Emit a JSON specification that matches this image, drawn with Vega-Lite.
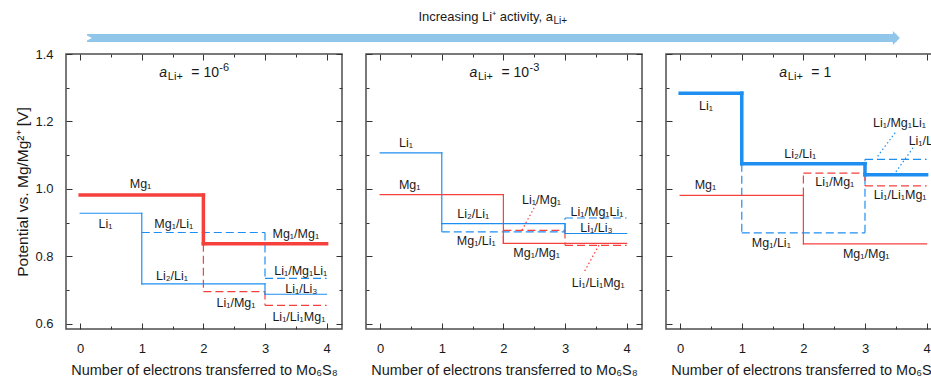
{
  "$schema": "https://vega.github.io/schema/vega-lite/v6.json",
  "padding": {"left": 15, "top": 0, "right": 0, "bottom": 0},
  "background": "white",
  "config": {
    "font": "Liberation Sans",
    "view": {"stroke": "#4d4d4d", "strokeWidth": 1.5},
    "axis": {"domain": false, "grid": false, "ticks": true, "tickColor": "#333333", "tickWidth": 1, "labelFont": "Liberation Sans", "labelFontSize": 13, "labelColor": "#1a1a1a", "titleFont": "Liberation Sans", "titleFontSize": 14.5, "titleFontWeight": "normal", "titleColor": "#1a1a1a", "labelOverlap": false, "labelFlush": false}
  },
  "datasets": {
    "seg": [
      {"p":1,"x":0,"x2":1,"y":0.928,"y2":0.928,"el":"Li","st":"solid","w":"thin"},
      {"p":1,"x":1,"x2":1,"y":0.928,"y2":0.719,"el":"Li","st":"solid","w":"thin"},
      {"p":1,"x":1,"x2":3,"y":0.719,"y2":0.719,"el":"Li","st":"solid","w":"thin"},
      {"p":1,"x":3,"x2":3,"y":0.719,"y2":0.688,"el":"Li","st":"solid","w":"thin"},
      {"p":1,"x":3,"x2":4,"y":0.688,"y2":0.688,"el":"Li","st":"solid","w":"thin"},
      {"p":1,"x":1,"x2":3,"y":0.871,"y2":0.871,"el":"Li","st":"dashed","w":"thin"},
      {"p":1,"x":3,"x2":3,"y":0.871,"y2":0.735,"el":"Li","st":"dashed","w":"thin"},
      {"p":1,"x":3,"x2":4,"y":0.735,"y2":0.735,"el":"Li","st":"dashed","w":"thin"},
      {"p":1,"x":2,"x2":2,"y":0.838,"y2":0.696,"el":"Mg","st":"dashed","w":"thin"},
      {"p":1,"x":2,"x2":3,"y":0.696,"y2":0.696,"el":"Mg","st":"dashed","w":"thin"},
      {"p":1,"x":3,"x2":3,"y":0.696,"y2":0.655,"el":"Mg","st":"dashed","w":"thin"},
      {"p":1,"x":3,"x2":4,"y":0.655,"y2":0.655,"el":"Mg","st":"dashed","w":"thin"},
      {"p":1,"x":0,"x2":2,"y":0.982,"y2":0.982,"el":"Mg","st":"solid","w":"thick"},
      {"p":1,"x":2,"x2":2,"y":0.982,"y2":0.838,"el":"Mg","st":"solid","w":"thick"},
      {"p":1,"x":2,"x2":4,"y":0.838,"y2":0.838,"el":"Mg","st":"solid","w":"thick"},

      {"p":2,"x":0,"x2":1,"y":1.107,"y2":1.107,"el":"Li","st":"solid","w":"thin"},
      {"p":2,"x":1,"x2":1,"y":1.107,"y2":0.897,"el":"Li","st":"solid","w":"thin"},
      {"p":2,"x":1,"x2":3,"y":0.897,"y2":0.897,"el":"Li","st":"solid","w":"thin"},
      {"p":2,"x":3,"x2":3,"y":0.897,"y2":0.868,"el":"Li","st":"solid","w":"thin"},
      {"p":2,"x":3,"x2":4,"y":0.868,"y2":0.868,"el":"Li","st":"solid","w":"thin"},
      {"p":2,"x":0,"x2":2,"y":0.983,"y2":0.983,"el":"Mg","st":"solid","w":"thin"},
      {"p":2,"x":2,"x2":2,"y":0.983,"y2":0.839,"el":"Mg","st":"solid","w":"thin"},
      {"p":2,"x":2,"x2":4,"y":0.839,"y2":0.839,"el":"Mg","st":"solid","w":"thin"},
      {"p":2,"x":1,"x2":1,"y":0.897,"y2":0.873,"el":"Li","st":"dashed","w":"thin"},
      {"p":2,"x":1,"x2":3,"y":0.873,"y2":0.873,"el":"Li","st":"dashed","w":"thin"},
      {"p":2,"x":3,"x2":3,"y":0.873,"y2":0.914,"el":"Li","st":"dashed","w":"thin"},
      {"p":2,"x":3,"x2":4,"y":0.914,"y2":0.914,"el":"Li","st":"dashed","w":"thin"},
      {"p":2,"x":2,"x2":2,"y":0.839,"y2":0.877,"el":"Mg","st":"dashed","w":"thin"},
      {"p":2,"x":2,"x2":3,"y":0.877,"y2":0.877,"el":"Mg","st":"dashed","w":"thin"},
      {"p":2,"x":3,"x2":3,"y":0.877,"y2":0.833,"el":"Mg","st":"dashed","w":"thin"},
      {"p":2,"x":3,"x2":4,"y":0.833,"y2":0.833,"el":"Mg","st":"dashed","w":"thin"},
      {"p":2,"x":2.53,"x2":2.30,"y":0.955,"y2":0.877,"el":"Mg","st":"dotted","w":"thin"},
      {"p":2,"x":3.32,"x2":3.56,"y":0.757,"y2":0.836,"el":"Mg","st":"dotted","w":"thin"},

      {"p":3,"x":1,"x2":1,"y":1.075,"y2":0.870,"el":"Li","st":"dashed","w":"thin"},
      {"p":3,"x":1,"x2":3,"y":0.870,"y2":0.870,"el":"Li","st":"dashed","w":"thin"},
      {"p":3,"x":3,"x2":3,"y":0.870,"y2":1.088,"el":"Li","st":"dashed","w":"thin"},
      {"p":3,"x":3,"x2":4,"y":1.088,"y2":1.088,"el":"Li","st":"dashed","w":"thin"},
      {"p":3,"x":2,"x2":2,"y":0.981,"y2":1.047,"el":"Mg","st":"dashed","w":"thin"},
      {"p":3,"x":2,"x2":3,"y":1.047,"y2":1.047,"el":"Mg","st":"dashed","w":"thin"},
      {"p":3,"x":3,"x2":3,"y":1.047,"y2":1.009,"el":"Mg","st":"dashed","w":"thin"},
      {"p":3,"x":3,"x2":4,"y":1.009,"y2":1.009,"el":"Mg","st":"dashed","w":"thin"},
      {"p":3,"x":3.49,"x2":3.19,"y":1.167,"y2":1.093,"el":"Li","st":"dotted","w":"thin"},
      {"p":3,"x":3.78,"x2":3.49,"y":1.122,"y2":1.048,"el":"Li","st":"dotted","w":"thin"},
      {"p":3,"x":0,"x2":2,"y":0.981,"y2":0.981,"el":"Mg","st":"solid","w":"thin"},
      {"p":3,"x":2,"x2":2,"y":0.981,"y2":0.837,"el":"Mg","st":"solid","w":"thin"},
      {"p":3,"x":2,"x2":4,"y":0.837,"y2":0.837,"el":"Mg","st":"solid","w":"thin"},
      {"p":3,"x":0,"x2":1,"y":1.284,"y2":1.284,"el":"Li","st":"solid","w":"thick"},
      {"p":3,"x":1,"x2":1,"y":1.284,"y2":1.075,"el":"Li","st":"solid","w":"thick"},
      {"p":3,"x":1,"x2":3,"y":1.075,"y2":1.075,"el":"Li","st":"solid","w":"thick"},
      {"p":3,"x":3,"x2":3,"y":1.075,"y2":1.042,"el":"Li","st":"solid","w":"thick"},
      {"p":3,"x":3,"x2":4,"y":1.042,"y2":1.042,"el":"Li","st":"solid","w":"thick"}
    ],
    "lab": [
      {"p":1,"x":0.98,"y":1.015,"t":"Mg₁"},
      {"p":1,"x":0.41,"y":0.895,"t":"Li₁"},
      {"p":1,"x":1.52,"y":0.897,"t":"Mg₁/Li₁"},
      {"p":1,"x":1.49,"y":0.741,"t":"Li₂/Li₁"},
      {"p":1,"x":2.53,"y":0.663,"t":"Li₁/Mg₁"},
      {"p":1,"x":3.50,"y":0.868,"t":"Mg₁/Mg₁"},
      {"p":1,"x":3.58,"y":0.757,"t":"Li₁/Mg₁Li₁"},
      {"p":1,"x":3.59,"y":0.705,"t":"Li₁/Li₃"},
      {"p":1,"x":3.55,"y":0.621,"t":"Li₁/Li₁Mg₁"},
      {"p":2,"x":0.42,"y":1.137,"t":"Li₁"},
      {"p":2,"x":0.48,"y":1.012,"t":"Mg₁"},
      {"p":2,"x":1.51,"y":0.925,"t":"Li₂/Li₁"},
      {"p":2,"x":1.56,"y":0.846,"t":"Mg₁/Li₁"},
      {"p":2,"x":2.62,"y":0.966,"t":"Li₁/Mg₁"},
      {"p":2,"x":2.54,"y":0.811,"t":"Mg₁/Mg₁"},
      {"p":2,"x":3.52,"y":0.933,"t":"Li₁/Mg₁Li₁"},
      {"p":2,"x":3.51,"y":0.885,"t":"Li₁/Li₃"},
      {"p":2,"x":3.54,"y":0.722,"t":"Li₁/Li₁Mg₁"},
      {"p":3,"x":0.42,"y":1.246,"t":"Li₁"},
      {"p":3,"x":1.95,"y":1.103,"t":"Li₂/Li₁"},
      {"p":3,"x":0.41,"y":1.012,"t":"Mg₁"},
      {"p":3,"x":2.51,"y":1.021,"t":"Li₁/Mg₁"},
      {"p":3,"x":1.48,"y":0.841,"t":"Mg₁/Li₁"},
      {"p":3,"x":3.02,"y":0.806,"t":"Mg₁/Mg₁"},
      {"p":3,"x":3.56,"y":1.196,"t":"Li₁/Mg₁Li₁"},
      {"p":3,"x":3.57,"y":0.982,"t":"Li₁/Li₁Mg₁"},
      {"p":3,"x":3.97,"y":1.142,"t":"Li₁/Li₃"}
    ],
    "ttl": [
      {"p":1,"x":1.285,"y":1.345,"a":"a","s":"Li+","m":"= 10","e":"-6"},
      {"p":2,"x":1.45,"y":1.345,"a":"a","s":"Li+","m":"= 10","e":"-3"},
      {"p":3,"x":1.61,"y":1.345,"a":"a","s":"Li+","m":"= 1","e":""}
    ],
    "hdr": [
      {"x0":0.0243,"x1":0.960,"ya":0.191,"xt":0.563,"yt":0.638,"t":"Increasing Li⁺ activity, a","s":"Li+"}
    ]
  },
  "spacing": 0,
  "vconcat": [
    {
      "width": 865, "height": 47,
      "view": {"stroke": null},
      "data": {"name": "hdr"},
      "layer": [
        {"mark": {"type": "rule", "strokeWidth": 8, "color": "#8fc6ea"},
         "encoding": {
           "x": {"field": "x0", "type": "quantitative", "scale": {"domain": [0, 1], "nice": false, "zero": false}, "axis": null},
           "x2": {"field": "x1"},
           "y": {"field": "ya", "type": "quantitative", "scale": {"domain": [0, 1], "nice": false, "zero": false}, "axis": null}
         }},
        {"mark": {"type": "point", "filled": true, "opacity": 1, "color": "#8fc6ea", "strokeWidth": 0, "size": 196, "shape": "M-0.5,-1L0.5,0L-0.5,1Z"},
         "encoding": {
           "x": {"field": "x1", "type": "quantitative", "scale": {"domain": [0, 1], "nice": false, "zero": false}, "axis": null},
           "y": {"field": "ya", "type": "quantitative", "scale": {"domain": [0, 1], "nice": false, "zero": false}, "axis": null}
         }},
        {"mark": {"type": "point", "filled": true, "opacity": 1, "color": "white", "strokeWidth": 0, "size": 100, "shape": "M-1,-1L1,0L-1,1Z"},
         "encoding": {
           "x": {"field": "x0", "type": "quantitative", "scale": {"domain": [0, 1], "nice": false, "zero": false}, "axis": null},
           "y": {"field": "ya", "type": "quantitative", "scale": {"domain": [0, 1], "nice": false, "zero": false}, "axis": null}
         }},
        {"mark": {"type": "text", "align": "right", "baseline": "middle", "fontSize": 13, "color": "#1a1a1a"},
         "encoding": {
           "x": {"field": "xt", "type": "quantitative", "scale": {"domain": [0, 1], "nice": false, "zero": false}, "axis": null},
           "y": {"field": "yt", "type": "quantitative", "scale": {"domain": [0, 1], "nice": false, "zero": false}, "axis": null},
           "text": {"field": "t"}
         }},
        {"mark": {"type": "text", "align": "left", "baseline": "middle", "fontSize": 10, "dy": 4, "dx": 0.5, "color": "#1a1a1a"},
         "encoding": {
           "x": {"field": "xt", "type": "quantitative", "scale": {"domain": [0, 1], "nice": false, "zero": false}, "axis": null},
           "y": {"field": "yt", "type": "quantitative", "scale": {"domain": [0, 1], "nice": false, "zero": false}, "axis": null},
           "text": {"field": "s"}
         }}
      ]
    },
    {
      "spacing": 20,
      "hconcat": [
        {
          "width": 276, "height": 275,
          "layer": [
            {"data": {"name": "seg"}, "transform": [{"filter": "datum.p === 1 && datum.st !== 'solid'"}],
             "mark": {"type": "rule"},
             "encoding": {
               "x": {"field": "x", "type": "quantitative", "scale": {"domain": [-0.23, 4.25], "nice": false, "zero": false},
                     "axis": {"orient": "bottom", "values": [0,0.5,1,1.5,2,2.5,3,3.5,4], "labelExpr": "datum.value % 1 === 0 ? format(datum.value, 'd') : ''", "tickSize": {"condition": {"test": "datum.value % 1 === 0", "value": -6}, "value": -3}, "labelPadding": 19, "title": "Number of electrons transferred to Mo₆S₈", "titlePadding": 5}},
               "x2": {"field": "x2"},
               "y": {"field": "y", "type": "quantitative", "scale": {"domain": [0.585, 1.4], "nice": false, "zero": false},
                     "axis": {"orient": "left", "values": [0.6,0.7,0.8,0.9,1.0,1.1,1.2,1.3,1.4], "labelExpr": "round(datum.value*10) % 2 === 0 ? format(datum.value, '.1f') : ''", "tickSize": {"condition": {"test": "round(datum.value*10) % 2 === 0", "value": -6}, "value": -3}, "labelPadding": 19, "title": "Potential vs. Mg/Mg²⁺ [V]", "titlePadding": 4, "titleFontSize": 15.5}},
               "y2": {"field": "y2"},
               "color": {"field": "el", "type": "nominal", "scale": {"domain": ["Li", "Mg"], "range": ["#1f8ef1", "#f5403c"]}, "legend": null},
               "strokeDash": {"field": "st", "type": "nominal", "scale": {"domain": ["solid", "dashed", "dotted"], "range": [[1, 0], [8, 4], [1.5, 2.5]]}, "legend": null},
               "strokeWidth": {"field": "w", "type": "ordinal", "scale": {"domain": ["thick", "thin"], "range": [3.5, 1.2]}, "legend": null}
             }},
            {"data": {"name": "seg"}, "transform": [{"filter": "datum.p === 1 && datum.st === 'solid'"}],
             "mark": {"type": "rule", "strokeCap": "square"},
             "encoding": {
               "x": {"field": "x", "type": "quantitative", "scale": {"domain": [-0.23, 4.25], "nice": false, "zero": false}, "axis": null},
               "x2": {"field": "x2"},
               "y": {"field": "y", "type": "quantitative", "scale": {"domain": [0.585, 1.4], "nice": false, "zero": false}, "axis": null},
               "y2": {"field": "y2"},
               "color": {"field": "el", "type": "nominal", "scale": {"domain": ["Li", "Mg"], "range": ["#1f8ef1", "#f5403c"]}, "legend": null},
               "strokeWidth": {"field": "w", "type": "ordinal", "scale": {"domain": ["thick", "thin"], "range": [3.5, 1.2]}, "legend": null}
             }},
            {"data": {"name": "lab"}, "transform": [{"filter": "datum.p === 1"}],
             "mark": {"type": "text", "fontSize": 12.5, "color": "#1a1a1a", "baseline": "middle"},
             "encoding": {
               "x": {"field": "x", "type": "quantitative", "scale": {"domain": [-0.23, 4.25], "nice": false, "zero": false},
                     "axis": {"orient": "top", "values": [0,0.5,1,1.5,2,2.5,3,3.5,4], "labels": false, "tickSize": {"condition": {"test": "datum.value % 1 === 0", "value": -6}, "value": -3}, "title": null}},
               "y": {"field": "y", "type": "quantitative", "scale": {"domain": [0.585, 1.4], "nice": false, "zero": false},
                     "axis": {"orient": "right", "values": [0.6,0.7,0.8,0.9,1.0,1.1,1.2,1.3,1.4], "labels": false, "tickSize": {"condition": {"test": "round(datum.value*10) % 2 === 0", "value": -6}, "value": -3}, "title": null}},
               "text": {"field": "t"}
             }},
            {"data": {"name": "ttl"}, "transform": [{"filter": "datum.p === 1"}],
             "mark": {"type": "text", "fontSize": 14, "fontStyle": "italic", "align": "left", "baseline": "middle", "color": "#1a1a1a"},
             "encoding": {"x": {"field": "x", "type": "quantitative", "axis": null}, "y": {"field": "y", "type": "quantitative", "axis": null}, "text": {"field": "a"}}},
            {"data": {"name": "ttl"}, "transform": [{"filter": "datum.p === 1"}],
             "mark": {"type": "text", "fontSize": 11, "align": "left", "baseline": "middle", "dx": 8.5, "dy": 4, "color": "#1a1a1a"},
             "encoding": {"x": {"field": "x", "type": "quantitative", "axis": null}, "y": {"field": "y", "type": "quantitative", "axis": null}, "text": {"field": "s"}}},
            {"data": {"name": "ttl"}, "transform": [{"filter": "datum.p === 1"}],
             "mark": {"type": "text", "fontSize": 14, "align": "left", "baseline": "middle", "dx": 32, "color": "#1a1a1a"},
             "encoding": {"x": {"field": "x", "type": "quantitative", "axis": null}, "y": {"field": "y", "type": "quantitative", "axis": null}, "text": {"field": "m"}}},
            {"data": {"name": "ttl"}, "transform": [{"filter": "datum.p === 1"}],
             "mark": {"type": "text", "fontSize": 11, "align": "left", "baseline": "middle", "dx": 60, "dy": -5, "color": "#1a1a1a"},
             "encoding": {"x": {"field": "x", "type": "quantitative", "axis": null}, "y": {"field": "y", "type": "quantitative", "axis": null}, "text": {"field": "e"}}}
          ]
        },
        {
          "width": 276, "height": 275,
          "layer": [
            {"data": {"name": "seg"}, "transform": [{"filter": "datum.p === 2 && datum.st !== 'solid'"}],
             "mark": {"type": "rule"},
             "encoding": {
               "x": {"field": "x", "type": "quantitative", "scale": {"domain": [-0.23, 4.25], "nice": false, "zero": false},
                     "axis": {"orient": "bottom", "values": [0,0.5,1,1.5,2,2.5,3,3.5,4], "labelExpr": "datum.value % 1 === 0 ? format(datum.value, 'd') : ''", "tickSize": {"condition": {"test": "datum.value % 1 === 0", "value": -6}, "value": -3}, "labelPadding": 19, "title": "Number of electrons transferred to Mo₆S₈", "titlePadding": 5}},
               "x2": {"field": "x2"},
               "y": {"field": "y", "type": "quantitative", "scale": {"domain": [0.585, 1.4], "nice": false, "zero": false},
                     "axis": {"orient": "left", "values": [0.6,0.7,0.8,0.9,1.0,1.1,1.2,1.3,1.4], "labels": false, "tickSize": {"condition": {"test": "round(datum.value*10) % 2 === 0", "value": -6}, "value": -3}, "title": null}},
               "y2": {"field": "y2"},
               "color": {"field": "el", "type": "nominal", "scale": {"domain": ["Li", "Mg"], "range": ["#1f8ef1", "#f5403c"]}, "legend": null},
               "strokeDash": {"field": "st", "type": "nominal", "scale": {"domain": ["solid", "dashed", "dotted"], "range": [[1, 0], [8, 4], [1.5, 2.5]]}, "legend": null},
               "strokeWidth": {"field": "w", "type": "ordinal", "scale": {"domain": ["thick", "thin"], "range": [3.5, 1.2]}, "legend": null}
             }},
            {"data": {"name": "seg"}, "transform": [{"filter": "datum.p === 2 && datum.st === 'solid'"}],
             "mark": {"type": "rule", "strokeCap": "square"},
             "encoding": {
               "x": {"field": "x", "type": "quantitative", "scale": {"domain": [-0.23, 4.25], "nice": false, "zero": false}, "axis": null},
               "x2": {"field": "x2"},
               "y": {"field": "y", "type": "quantitative", "scale": {"domain": [0.585, 1.4], "nice": false, "zero": false}, "axis": null},
               "y2": {"field": "y2"},
               "color": {"field": "el", "type": "nominal", "scale": {"domain": ["Li", "Mg"], "range": ["#1f8ef1", "#f5403c"]}, "legend": null},
               "strokeWidth": {"field": "w", "type": "ordinal", "scale": {"domain": ["thick", "thin"], "range": [3.5, 1.2]}, "legend": null}
             }},
            {"data": {"name": "lab"}, "transform": [{"filter": "datum.p === 2"}],
             "mark": {"type": "text", "fontSize": 12.5, "color": "#1a1a1a", "baseline": "middle"},
             "encoding": {
               "x": {"field": "x", "type": "quantitative", "scale": {"domain": [-0.23, 4.25], "nice": false, "zero": false},
                     "axis": {"orient": "top", "values": [0,0.5,1,1.5,2,2.5,3,3.5,4], "labels": false, "tickSize": {"condition": {"test": "datum.value % 1 === 0", "value": -6}, "value": -3}, "title": null}},
               "y": {"field": "y", "type": "quantitative", "scale": {"domain": [0.585, 1.4], "nice": false, "zero": false},
                     "axis": {"orient": "right", "values": [0.6,0.7,0.8,0.9,1.0,1.1,1.2,1.3,1.4], "labels": false, "tickSize": {"condition": {"test": "round(datum.value*10) % 2 === 0", "value": -6}, "value": -3}, "title": null}},
               "text": {"field": "t"}
             }},
            {"data": {"name": "ttl"}, "transform": [{"filter": "datum.p === 2"}],
             "mark": {"type": "text", "fontSize": 14, "fontStyle": "italic", "align": "left", "baseline": "middle", "color": "#1a1a1a"},
             "encoding": {"x": {"field": "x", "type": "quantitative", "axis": null}, "y": {"field": "y", "type": "quantitative", "axis": null}, "text": {"field": "a"}}},
            {"data": {"name": "ttl"}, "transform": [{"filter": "datum.p === 2"}],
             "mark": {"type": "text", "fontSize": 11, "align": "left", "baseline": "middle", "dx": 8.5, "dy": 4, "color": "#1a1a1a"},
             "encoding": {"x": {"field": "x", "type": "quantitative", "axis": null}, "y": {"field": "y", "type": "quantitative", "axis": null}, "text": {"field": "s"}}},
            {"data": {"name": "ttl"}, "transform": [{"filter": "datum.p === 2"}],
             "mark": {"type": "text", "fontSize": 14, "align": "left", "baseline": "middle", "dx": 32, "color": "#1a1a1a"},
             "encoding": {"x": {"field": "x", "type": "quantitative", "axis": null}, "y": {"field": "y", "type": "quantitative", "axis": null}, "text": {"field": "m"}}},
            {"data": {"name": "ttl"}, "transform": [{"filter": "datum.p === 2"}],
             "mark": {"type": "text", "fontSize": 11, "align": "left", "baseline": "middle", "dx": 60, "dy": -5, "color": "#1a1a1a"},
             "encoding": {"x": {"field": "x", "type": "quantitative", "axis": null}, "y": {"field": "y", "type": "quantitative", "axis": null}, "text": {"field": "e"}}}
          ]
        },
        {
          "width": 276, "height": 275,
          "layer": [
            {"data": {"name": "seg"}, "transform": [{"filter": "datum.p === 3 && datum.st !== 'solid'"}],
             "mark": {"type": "rule"},
             "encoding": {
               "x": {"field": "x", "type": "quantitative", "scale": {"domain": [-0.23, 4.25], "nice": false, "zero": false},
                     "axis": {"orient": "bottom", "values": [0,0.5,1,1.5,2,2.5,3,3.5,4], "labelExpr": "datum.value % 1 === 0 ? format(datum.value, 'd') : ''", "tickSize": {"condition": {"test": "datum.value % 1 === 0", "value": -6}, "value": -3}, "labelPadding": 19, "title": "Number of electrons transferred to Mo₆S₈", "titlePadding": 5}},
               "x2": {"field": "x2"},
               "y": {"field": "y", "type": "quantitative", "scale": {"domain": [0.585, 1.4], "nice": false, "zero": false},
                     "axis": {"orient": "left", "values": [0.6,0.7,0.8,0.9,1.0,1.1,1.2,1.3,1.4], "labels": false, "tickSize": {"condition": {"test": "round(datum.value*10) % 2 === 0", "value": -6}, "value": -3}, "title": null}},
               "y2": {"field": "y2"},
               "color": {"field": "el", "type": "nominal", "scale": {"domain": ["Li", "Mg"], "range": ["#1f8ef1", "#f5403c"]}, "legend": null},
               "strokeDash": {"field": "st", "type": "nominal", "scale": {"domain": ["solid", "dashed", "dotted"], "range": [[1, 0], [8, 4], [1.5, 2.5]]}, "legend": null},
               "strokeWidth": {"field": "w", "type": "ordinal", "scale": {"domain": ["thick", "thin"], "range": [3.5, 1.2]}, "legend": null}
             }},
            {"data": {"name": "seg"}, "transform": [{"filter": "datum.p === 3 && datum.st === 'solid'"}],
             "mark": {"type": "rule", "strokeCap": "square"},
             "encoding": {
               "x": {"field": "x", "type": "quantitative", "scale": {"domain": [-0.23, 4.25], "nice": false, "zero": false}, "axis": null},
               "x2": {"field": "x2"},
               "y": {"field": "y", "type": "quantitative", "scale": {"domain": [0.585, 1.4], "nice": false, "zero": false}, "axis": null},
               "y2": {"field": "y2"},
               "color": {"field": "el", "type": "nominal", "scale": {"domain": ["Li", "Mg"], "range": ["#1f8ef1", "#f5403c"]}, "legend": null},
               "strokeWidth": {"field": "w", "type": "ordinal", "scale": {"domain": ["thick", "thin"], "range": [3.5, 1.2]}, "legend": null}
             }},
            {"data": {"name": "lab"}, "transform": [{"filter": "datum.p === 3"}],
             "mark": {"type": "text", "fontSize": 12.5, "color": "#1a1a1a", "baseline": "middle"},
             "encoding": {
               "x": {"field": "x", "type": "quantitative", "scale": {"domain": [-0.23, 4.25], "nice": false, "zero": false},
                     "axis": {"orient": "top", "values": [0,0.5,1,1.5,2,2.5,3,3.5,4], "labels": false, "tickSize": {"condition": {"test": "datum.value % 1 === 0", "value": -6}, "value": -3}, "title": null}},
               "y": {"field": "y", "type": "quantitative", "scale": {"domain": [0.585, 1.4], "nice": false, "zero": false},
                     "axis": {"orient": "right", "values": [0.6,0.7,0.8,0.9,1.0,1.1,1.2,1.3,1.4], "labels": false, "tickSize": {"condition": {"test": "round(datum.value*10) % 2 === 0", "value": -6}, "value": -3}, "title": null}},
               "text": {"field": "t"}
             }},
            {"data": {"name": "ttl"}, "transform": [{"filter": "datum.p === 3"}],
             "mark": {"type": "text", "fontSize": 14, "fontStyle": "italic", "align": "left", "baseline": "middle", "color": "#1a1a1a"},
             "encoding": {"x": {"field": "x", "type": "quantitative", "axis": null}, "y": {"field": "y", "type": "quantitative", "axis": null}, "text": {"field": "a"}}},
            {"data": {"name": "ttl"}, "transform": [{"filter": "datum.p === 3"}],
             "mark": {"type": "text", "fontSize": 11, "align": "left", "baseline": "middle", "dx": 8.5, "dy": 4, "color": "#1a1a1a"},
             "encoding": {"x": {"field": "x", "type": "quantitative", "axis": null}, "y": {"field": "y", "type": "quantitative", "axis": null}, "text": {"field": "s"}}},
            {"data": {"name": "ttl"}, "transform": [{"filter": "datum.p === 3"}],
             "mark": {"type": "text", "fontSize": 14, "align": "left", "baseline": "middle", "dx": 32, "color": "#1a1a1a"},
             "encoding": {"x": {"field": "x", "type": "quantitative", "axis": null}, "y": {"field": "y", "type": "quantitative", "axis": null}, "text": {"field": "m"}}}
          ]
        }
      ]
    }
  ]
}
